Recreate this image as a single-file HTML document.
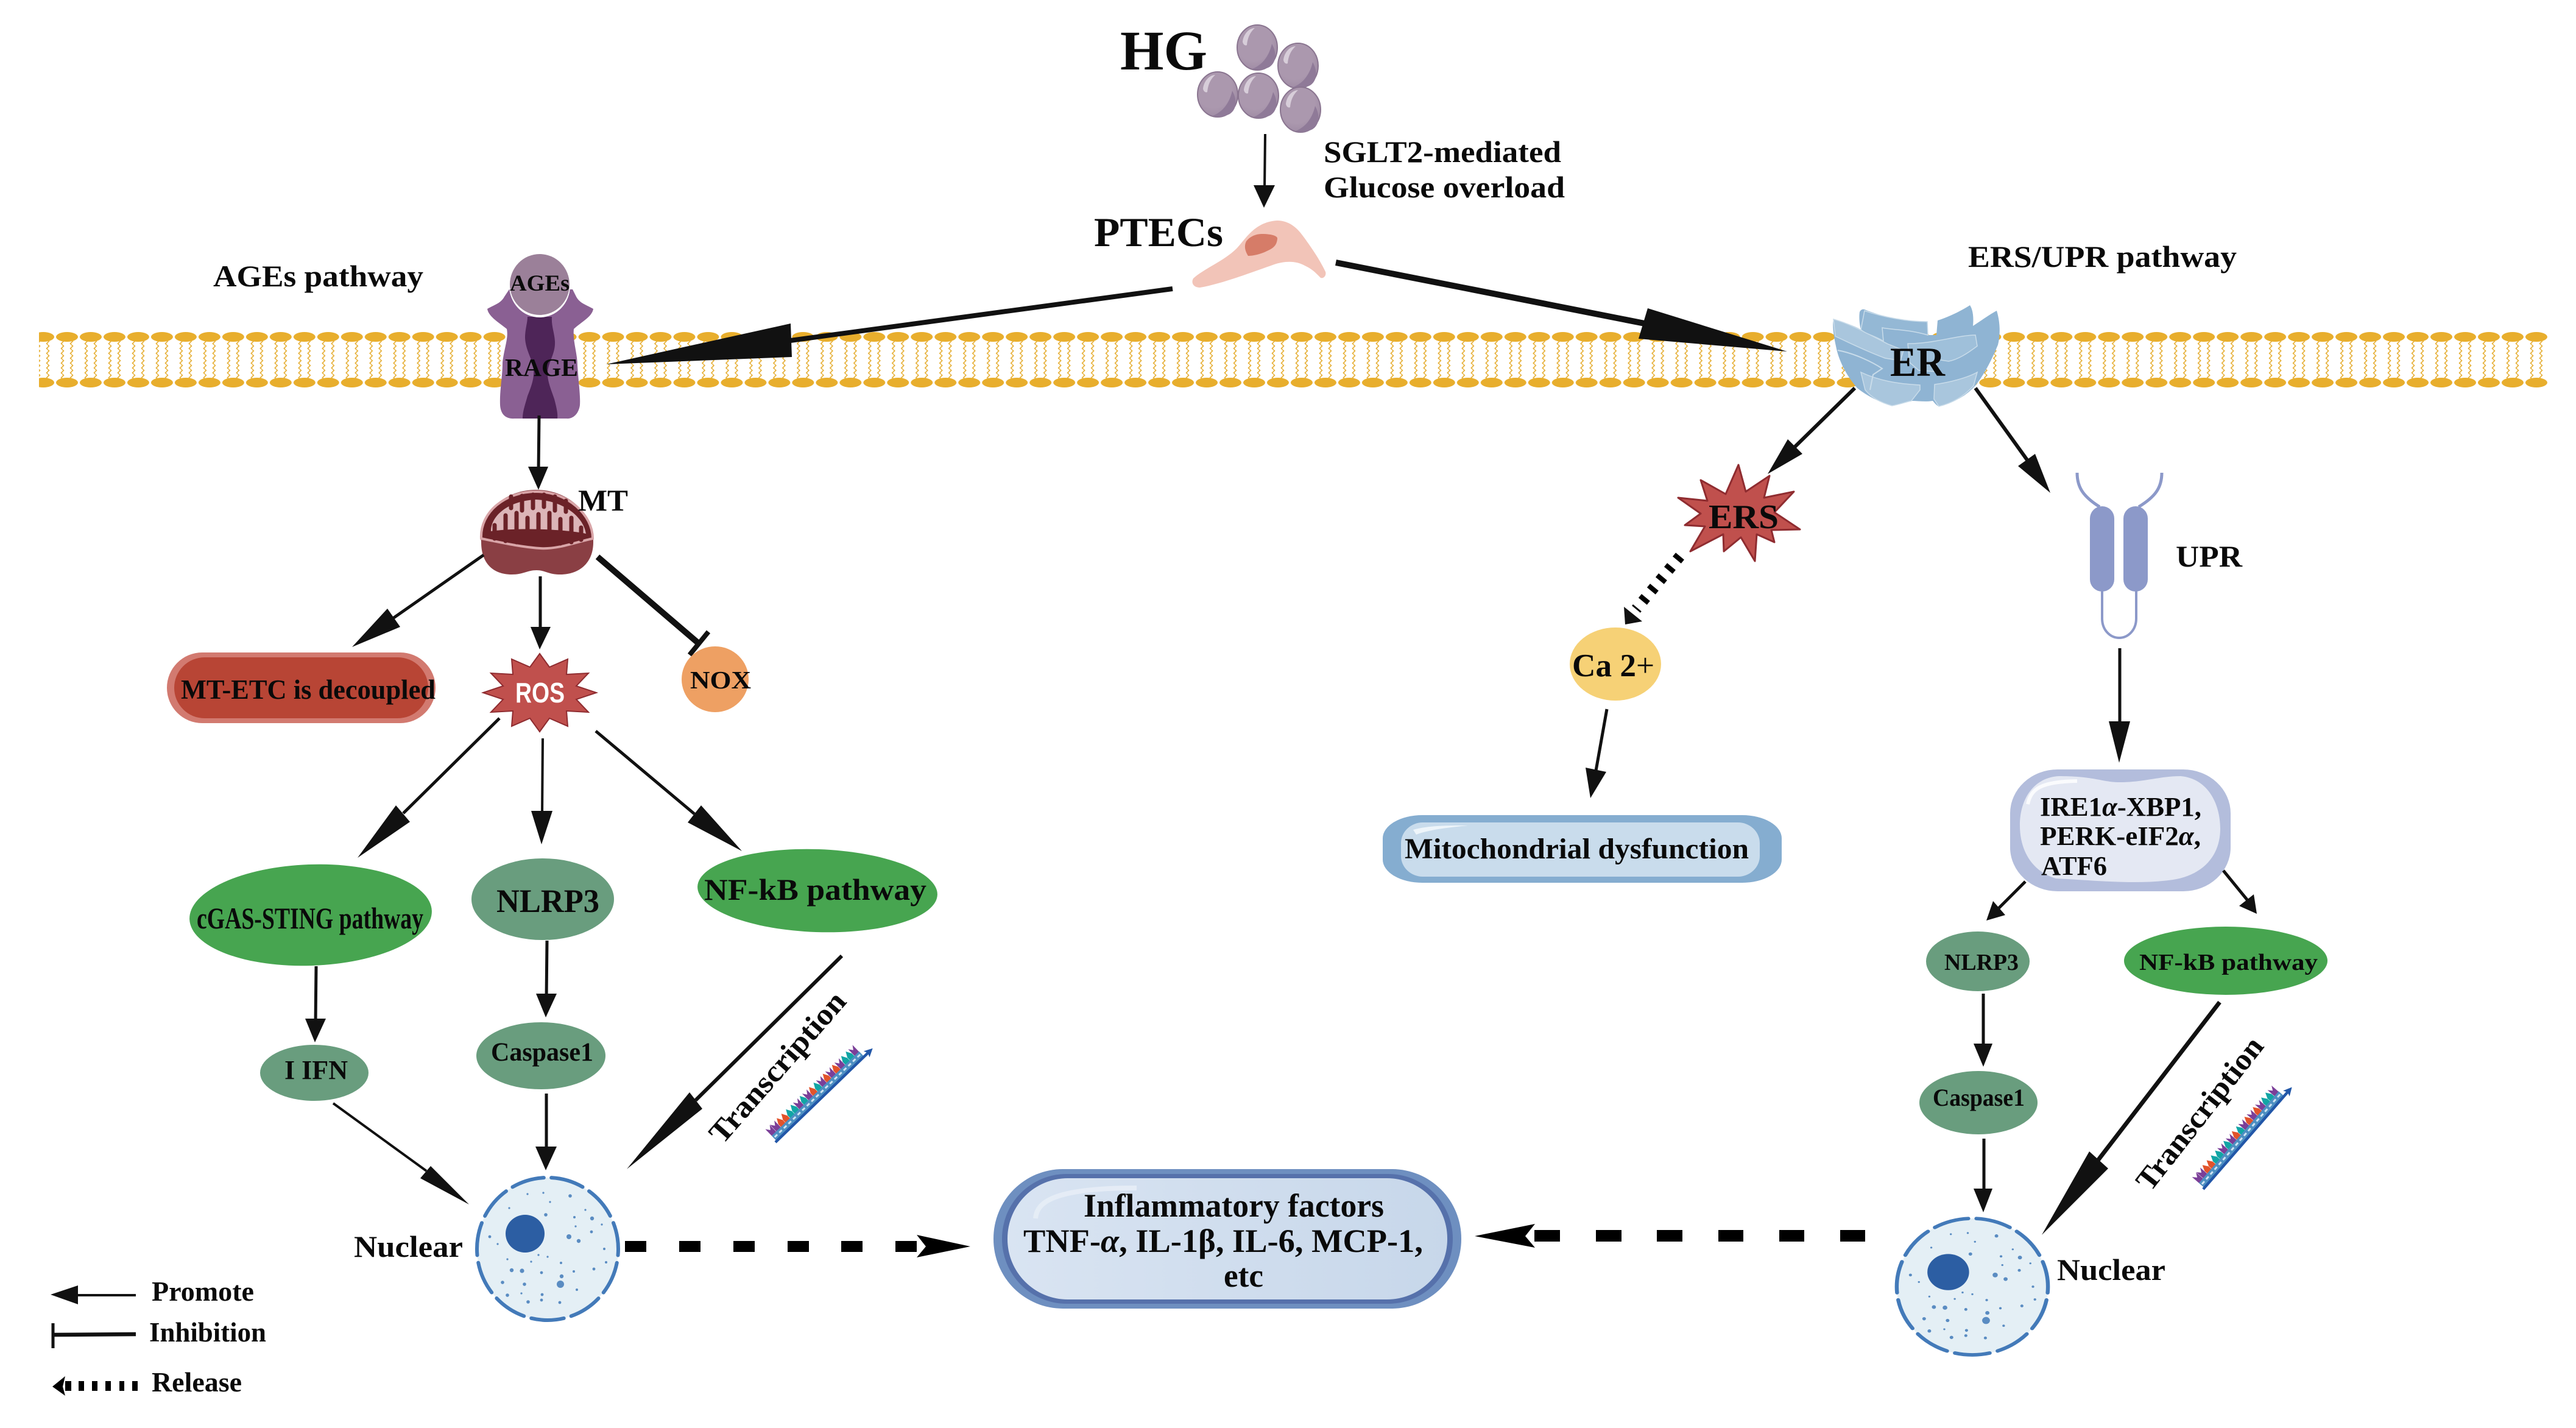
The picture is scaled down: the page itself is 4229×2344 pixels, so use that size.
<!DOCTYPE html>
<html lang="en"><head><meta charset="utf-8"><title>HG PTEC pathways</title>
<style>
html,body{margin:0;padding:0;background:#fff}
svg{display:block}
text{font-family:"Liberation Serif","Noto Serif CJK SC",serif;font-weight:bold;fill:#0a0a0a}
.a{fill:#111;stroke:none}
.l{stroke:#111;fill:none}
</style></head><body>
<svg xmlns="http://www.w3.org/2000/svg" width="4229" height="2344" viewBox="0 0 4229 2344">
<defs>
<pattern id="heads" patternUnits="userSpaceOnUse" x="90.5" y="0" width="38.98" height="2344">
<ellipse cx="19.49" cy="553" rx="18" ry="8" fill="#e8ae2d"/>
<ellipse cx="19.49" cy="628" rx="18" ry="8" fill="#e8ae2d"/>
</pattern>
<pattern id="tails" patternUnits="userSpaceOnUse" x="90.5" y="558" width="38.98" height="8">
<path d="M12 0l2 2l-4 4l2 2M27 0l2 2l-4 4l2 2" fill="none" stroke="#e6b038" stroke-width="1.6"/>
</pattern>
<radialGradient id="ball" cx="0.4" cy="0.35" r="0.75"><stop offset="0.6" stop-color="#ab98ae"/><stop offset="1" stop-color="#9a86a0"/></radialGradient>
<linearGradient id="pillg" x1="0" x2="1" y1="0" y2="0"><stop offset="0" stop-color="#d9e4f2"/><stop offset="1" stop-color="#c7d7ea"/></linearGradient>
<g id="ballg"><ellipse rx="33" ry="37" fill="url(#ball)" stroke="#8a7590" stroke-width="2"/><path d="M-8 35C10 28 20 12 24 -6C32 8 32 24 20 32C10 37 2 38 -8 35Z" fill="#8f7a98"/><path d="M-24 -10C-22 -24 -12 -32 -4 -32C-13 -24 -16 -14 -17 -4C-20 -2 -24 -6 -24 -10Z" fill="#d7cdd9"/></g>
<g id="nucleus">
<ellipse cx="899" cy="2050" rx="116" ry="117" fill="#e4eff5" stroke="#437ab9" stroke-width="6" stroke-linecap="round" stroke-dasharray="54 12.5" stroke-dashoffset="-23"/>
<ellipse cx="862" cy="2025" rx="32" ry="31" fill="#2c5ea3"/>
<g fill="#5a8cc2">
<circle cx="866" cy="1960" r="1.6"/><circle cx="892" cy="1958" r="1.6"/><circle cx="936" cy="1963" r="2.8"/><circle cx="903" cy="1973" r="1.6"/><circle cx="836" cy="1983" r="1.6"/><circle cx="961" cy="1986" r="1.6"/><circle cx="896" cy="1994" r="2.8"/><circle cx="943" cy="1998" r="2"/><circle cx="972" cy="2000" r="3.2"/><circle cx="988" cy="2010" r="1.6"/><circle cx="945" cy="2013" r="1.6"/><circle cx="971" cy="2022" r="2.4"/><circle cx="804" cy="2030" r="2.4"/><circle cx="934" cy="2030" r="4"/><circle cx="950" cy="2037" r="3.2"/><circle cx="817" cy="2042" r="1.6"/><circle cx="992" cy="2050" r="2"/><circle cx="884" cy="2060" r="1.6"/><circle cx="899" cy="2063" r="1.6"/><circle cx="833" cy="2067" r="1.6"/><circle cx="872" cy="2071" r="1.6"/><circle cx="921" cy="2073" r="2"/><circle cx="995" cy="2072" r="2"/><circle cx="975" cy="2083" r="2.4"/><circle cx="840" cy="2085" r="3.2"/><circle cx="857" cy="2086" r="3.6"/><circle cx="889" cy="2089" r="2.4"/><circle cx="942" cy="2087" r="2"/><circle cx="922" cy="2095" r="3.2"/><circle cx="825" cy="2105" r="2.8"/><circle cx="861" cy="2108" r="2.8"/><circle cx="920" cy="2108" r="6"/><circle cx="947" cy="2117" r="2"/><circle cx="833" cy="2126" r="2.8"/><circle cx="856" cy="2123" r="1.6"/><circle cx="890" cy="2125" r="2.4"/><circle cx="867" cy="2137" r="2.8"/><circle cx="889" cy="2134" r="2.4"/><circle cx="919" cy="2138" r="2.4"/>
</g></g>
<path id="t" d="M0 0h10v-16l-5-9l-5 9z"/>
<path id="p" d="M0 0h10v-25l-5 7l-5-7z"/>
<g id="rna">
<g transform="translate(0,-2)">
<use href="#p" x="3" fill="#7b3f98"/><use href="#p" x="13.5" fill="#7b3f98"/><use href="#t" x="24" fill="#e2532b"/><use href="#t" x="34.5" fill="#e2532b"/><use href="#t" x="45" fill="#12a5a5"/><use href="#t" x="55.5" fill="#12a5a5"/><use href="#p" x="66" fill="#7b3f98"/><use href="#t" x="76.5" fill="#12a5a5"/><use href="#p" x="87" fill="#7b3f98"/><use href="#t" x="97.5" fill="#e2532b"/><use href="#t" x="108" fill="#12a5a5"/><use href="#p" x="118.5" fill="#7b3f98"/><use href="#t" x="129" fill="#e2532b"/><use href="#p" x="139.5" fill="#7b3f98"/><use href="#t" x="150" fill="#e2532b"/><use href="#p" x="160.5" fill="#7b3f98"/><use href="#t" x="171" fill="#12a5a5"/><use href="#t" x="181.5" fill="#12a5a5"/><use href="#p" x="192" fill="#7b3f98"/>
<rect x="3" y="-10" width="199.5" height="10" fill="#4d8fc2"/>
<path d="M5-5h195" stroke="#cfe4f2" stroke-width="3" stroke-dasharray="6 4.5" fill="none"/>
</g>
<path d="M0 0H212" stroke="#2257a8" stroke-width="4.5" fill="none"/>
<path d="M208 -7L222 0L208 7L211 0Z" fill="#2257a8"/>
</g>
</defs>
<rect width="4229" height="2344" fill="#fff"/>

<!-- membrane -->
<rect x="64" y="558" width="4120" height="64" fill="url(#tails)"/>
<rect x="64" y="544" width="4120" height="92" fill="url(#heads)"/>

<!-- HG balls -->
<use href="#ballg" x="2064" y="78"/><use href="#ballg" x="2131" y="108"/><use href="#ballg" x="1999" y="155"/><use href="#ballg" x="2066" y="157"/><use href="#ballg" x="2135" y="180"/>
<text x="1839" y="114" font-size="92" textLength="143" lengthAdjust="spacingAndGlyphs">HG</text>

<line class="l" x1="2077" y1="220" x2="2076" y2="310" stroke-width="4"/>
<polygon class="a" points="2075,341 2058,304 2093,304"/>
<text x="2173" y="266" font-size="50" textLength="390" lengthAdjust="spacingAndGlyphs">SGLT2-mediated</text>
<text x="2173" y="324" font-size="50" textLength="396" lengthAdjust="spacingAndGlyphs">Glucose overload</text>

<!-- PTEC -->
<path d="M2097 362C2114 362 2128 372 2138 386C2150 402 2166 425 2176 446C2178 452 2173 458 2168 456C2160 448 2155 442 2142 436C2128 428 2110 428 2092 434C2058 446 2005 466 1970 472C1959 472 1955 464 1959 457C1975 442 2010 428 2030 408C2045 392 2060 364 2097 362Z" fill="#f2c4b8"/>
<path d="M2071 384C2090 384 2098 388 2097 392C2096 400 2094 406 2080 412C2068 418 2056 420 2049 420C2044 412 2042 404 2046 396C2052 388 2062 384 2071 384Z" fill="#d67c68"/>
<text x="1796" y="404" font-size="68" textLength="212" lengthAdjust="spacingAndGlyphs">PTECs</text>

<!-- big arrows from PTEC -->
<line class="l" x1="1925" y1="474" x2="1290" y2="560" stroke-width="8"/>
<line class="l" x1="2193" y1="431" x2="2700" y2="531" stroke-width="10"/>

<!-- RAGE -->
<path d="M800 507C812 500 822 498 828 487L836 475L940 475L946 487C952 498 962 500 974 507C972 520 955 528 942 540C940 560 948 580 948 600C950 630 953 650 952 665C950 680 940 688 930 687L845 687C830 688 822 680 821 665C820 640 825 620 825 595C828 570 835 555 832 540C820 530 802 520 800 507Z" fill="#8a6093"/>
<path d="M866 520L906 520C905 535 910 545 911 560C912 580 902 590 899 610C898 625 905 640 910 655C914 670 916 680 915 687L858 687C858 675 862 665 866 650C874 630 877 620 876 605C874 590 863 575 862 555C862 540 866 530 866 520Z" fill="#4e2558"/>
<ellipse cx="886" cy="469" rx="50" ry="52" fill="#fff"/>
<ellipse cx="886" cy="467" rx="49" ry="50" fill="#9b8099"/>
<text x="837" y="477" font-size="37" textLength="98" lengthAdjust="spacingAndGlyphs">AGEs</text>
<text x="829" y="617" font-size="41" textLength="120" lengthAdjust="spacingAndGlyphs">RAGE</text>
<text x="350" y="470" font-size="50" textLength="345" lengthAdjust="spacingAndGlyphs">AGEs pathway</text>
<polygon class="a" points="995,598 1298,531 1300,586"/>
<polygon class="a" points="2934,577 2705,506 2690,556"/>

<!-- ER -->
<path d="M3010 524C3025 528 3045 535 3055 541C3052 530 3052 518 3053 512C3055 508 3058 507 3061 508C3090 520 3130 528 3164 528L3165 550L3179 550L3181 526C3200 520 3220 510 3234 501C3240 510 3240 525 3239 535C3250 528 3268 515 3278 510C3284 530 3284 550 3280 566C3270 590 3260 610 3246 629C3230 650 3205 662 3183 667C3178 665 3175 660 3173 658C3160 660 3150 658 3138 658C3128 660 3118 664 3106 666C3085 660 3065 650 3049 637C3030 615 3018 590 3014 568C3010 550 3008 535 3010 524Z" fill="#8fb4d3"/>
<path d="M3010 524C3040 532 3070 550 3100 565L3125 575L3120 592L3095 588C3060 575 3035 562 3013 552Z" fill="#a9c6dd" stroke="#c9dcea" stroke-width="1.5"/>
<path d="M3055 611C3085 625 3115 630 3152 632L3152 640L3138 658C3128 660 3118 664 3106 666C3085 660 3072 652 3062 640Z" fill="#a9c6dd" stroke="#c9dcea" stroke-width="1.5"/>
<path d="M3176 631C3200 628 3230 620 3246 611L3240 633C3225 650 3205 662 3183 667L3175 655Z" fill="#a9c6dd" stroke="#c9dcea" stroke-width="1.5"/>
<path d="M3132 564C3170 565 3215 550 3243 550L3246 568C3230 580 3215 590 3199 593L3180 590L3178 610L3150 608L3135 595Z" fill="#9fc0da" stroke="#c9dcea" stroke-width="1.5"/>
<path d="M3061 510C3090 520 3130 528 3164 528L3165 550C3130 540 3110 542 3090 538L3092 560C3080 552 3062 548 3055 541Z" fill="#94b8d5" stroke="#c9dcea" stroke-width="1.5"/>
<path d="M3017 575C3045 580 3075 595 3090 605L3075 615L3070 640" fill="none" stroke="#c9dcea" stroke-width="2"/>
<text x="3103" y="617" font-size="68" textLength="90" lengthAdjust="spacingAndGlyphs">ER</text>

<line class="l" x1="3045" y1="637" x2="2945" y2="735" stroke-width="6"/>
<polygon class="a" points="2902,778 2935,721 2959,745"/>
<line class="l" x1="3243" y1="637" x2="3328" y2="755" stroke-width="6"/>
<polygon class="a" points="3366,809 3341,745 3313,765"/>

<!-- ERS -->
<polygon points="2854,763 2866,807 2905,781 2896,817 2945,807 2913,841 2955,869 2908,870 2913,890 2884,877 2881,921 2858,882 2830,905 2829,877 2775,905 2799,864 2766,862 2792,843 2755,817 2803,822 2792,788 2833,811" fill="#c0504d" stroke="#8f2c30" stroke-width="3" stroke-linejoin="round"/>
<text x="2805" y="867" font-size="56" textLength="115" lengthAdjust="spacingAndGlyphs">ERS</text>
<line class="l" x1="2758" y1="913" x2="2686" y2="1000" stroke-width="18" stroke-dasharray="8 14" style="stroke:#000"/>
<polygon class="a" points="2668,1025 2666,996 2696,1020"/>
<ellipse cx="2652" cy="1090" rx="75" ry="60" fill="#f6d176"/>
<text x="2581" y="1110" font-size="53" textLength="135" lengthAdjust="spacingAndGlyphs">Ca 2<tspan font-weight="normal">+</tspan></text>
<line class="l" x1="2638" y1="1164" x2="2620" y2="1265" stroke-width="5"/>
<polygon class="a" points="2611,1310 2603,1260 2637,1267"/>
<rect x="2270" y="1338" width="655" height="111" rx="65" ry="38" fill="#85add0"/>
<rect x="2300" y="1350" width="589" height="89" rx="36" ry="34" fill="#c9dcec"/>
<path d="M2320 1362C2345 1355 2375 1355 2410 1355C2380 1358 2345 1362 2325 1370Z" fill="#eef5fa"/>
<text x="2306" y="1409" font-size="48" textLength="565" lengthAdjust="spacingAndGlyphs">Mitochondrial dysfunction</text>

<!-- UPR -->
<path d="M3410 776C3410 800 3420 815 3447 832M3549 776C3549 800 3539 815 3511 832" fill="none" stroke="#8c99c9" stroke-width="5"/>
<path d="M3451 965V1015C3451 1035 3465 1047 3479 1047C3493 1047 3507 1035 3507 1015V965" fill="none" stroke="#8c99c9" stroke-width="4"/>
<rect x="3431" y="831" width="40" height="140" rx="20" fill="#8c99c9"/>
<rect x="3486" y="831" width="40" height="140" rx="20" fill="#8c99c9"/>
<text x="3572" y="930" font-size="50" textLength="109" lengthAdjust="spacingAndGlyphs">UPR</text>
<text x="3231" y="438" font-size="50" textLength="441" lengthAdjust="spacingAndGlyphs">ERS/UPR pathway</text>
<line class="l" x1="3480" y1="1064" x2="3480" y2="1200" stroke-width="5"/>
<polygon class="a" points="3479,1252 3462,1184 3497,1184"/>

<!-- IRE -->
<rect x="3300" y="1263" width="362" height="200" rx="78" ry="72" fill="#b3bddc"/>
<path d="M3380 1274C3440 1274 3450 1284 3480 1284C3520 1284 3545 1274 3580 1274C3625 1278 3645 1320 3645 1360C3645 1410 3610 1440 3560 1445C3500 1452 3440 1445 3375 1442C3335 1430 3316 1395 3316 1355C3316 1310 3340 1276 3380 1274Z" fill="#e4e8f3"/>
<path d="M3329 1320C3334 1295 3350 1283 3410 1282" fill="none" stroke="#fff" stroke-width="6" opacity=".8"/>
<text x="3349" y="1339" font-size="44" textLength="265" lengthAdjust="spacingAndGlyphs">IRE1<tspan font-style="italic">α</tspan>-XBP1,</text>
<text x="3349" y="1387" font-size="44" textLength="264" lengthAdjust="spacingAndGlyphs">PERK-eIF2<tspan font-style="italic">α</tspan>,</text>
<text x="3351" y="1436" font-size="44" textLength="108" lengthAdjust="spacingAndGlyphs">ATF6</text>
<line class="l" x1="3325" y1="1447" x2="3280" y2="1492" stroke-width="5"/>
<polygon class="a" points="3261,1511 3272,1479 3292,1502"/>
<line class="l" x1="3650" y1="1429" x2="3690" y2="1478" stroke-width="5"/>
<polygon class="a" points="3705,1500 3700,1468 3676,1487"/>

<ellipse cx="3247" cy="1578" rx="85" ry="49" fill="#699d7e"/>
<text x="3192" y="1592" font-size="38" textLength="122" lengthAdjust="spacingAndGlyphs">NLRP3</text>
<ellipse cx="3654" cy="1577" rx="167" ry="56" fill="#47a550"/>
<text x="3512" y="1592" font-size="38" textLength="293" lengthAdjust="spacingAndGlyphs">NF-kB pathway</text>
<line class="l" x1="3256" y1="1631" x2="3256" y2="1720" stroke-width="5"/>
<polygon class="a" points="3256,1751 3240,1713 3271,1713"/>
<ellipse cx="3248" cy="1810" rx="97" ry="52" fill="#699d7e"/>
<text x="3173" y="1815" font-size="40" textLength="151" lengthAdjust="spacingAndGlyphs">Caspase1</text>
<line class="l" x1="3257" y1="1869" x2="3257" y2="1960" stroke-width="5"/>
<polygon class="a" points="3256,1990 3240,1951 3271,1951"/>
<line class="l" x1="3644" y1="1645" x2="3440" y2="1910" stroke-width="7"/>
<polygon class="a" points="3352,2027 3430,1890 3461,1918"/>
<g transform="translate(3530,1958) rotate(-51.9)"><text x="0" y="0" font-size="50" textLength="305" lengthAdjust="spacingAndGlyphs">Transcription</text></g>
<use href="#rna" transform="translate(3617,1952) rotate(-49)"/>
<use href="#nucleus" transform="translate(3238,2112) scale(1.07,0.957) translate(-899,-2050)"/>
<text x="3377" y="2101" font-size="50" textLength="178" lengthAdjust="spacingAndGlyphs">Nuclear</text>

<!-- right dashes -->
<g fill="#000"><rect x="2519" y="2019" width="42" height="19"/><rect x="2620" y="2019" width="42" height="19"/><rect x="2720" y="2019" width="42" height="19"/><rect x="2821" y="2019" width="41" height="19"/><rect x="2921" y="2019" width="41" height="19"/><rect x="3021" y="2019" width="41" height="19"/>
<polygon points="2421,2029 2520,2009 2504,2029 2520,2048"/></g>

<!-- Inflammatory -->
<rect x="1631" y="1919" width="768" height="229" rx="114" fill="#6e8fc0"/>
<rect x="1645" y="1927" width="740" height="213" rx="106" fill="#5671ab"/>
<rect x="1654" y="1934" width="722" height="199" rx="99" fill="url(#pillg)"/>
<path d="M1700 2000C1702 1975 1725 1950 1866 1950" fill="none" stroke="#e8eff8" stroke-width="8" opacity=".8"/>
<text x="1779" y="1997" font-size="54" textLength="493" lengthAdjust="spacingAndGlyphs">Inflammatory factors</text>
<text x="1680" y="2055" font-size="54" textLength="656" lengthAdjust="spacingAndGlyphs">TNF-<tspan font-style="italic">α</tspan>, IL-1β, IL-6, MCP-1,</text>
<text x="2009" y="2112" font-size="54" textLength="65" lengthAdjust="spacingAndGlyphs">etc</text>

<!-- left dashes -->
<g fill="#000"><rect x="1026" y="2037" width="35" height="18"/><rect x="1115" y="2037" width="35" height="18"/><rect x="1204" y="2037" width="35" height="18"/><rect x="1293" y="2037" width="35" height="18"/><rect x="1381" y="2037" width="35" height="18"/><rect x="1470" y="2037" width="35" height="18"/>
<polygon points="1593,2046 1505,2027 1520,2046 1505,2064"/></g>

<!-- Mitochondrion -->
<path d="M790 890C785 840 830 804 880 804C935 804 975 845 974 890C974 925 950 943 920 943C900 943 895 936 881 936C865 936 860 943 840 943C810 943 790 925 790 890Z" fill="#8a3f44"/>
<path d="M790 884C788 840 830 807 880 807C932 807 973 845 973 884C945 890 915 902 887 900C855 898 820 890 790 884Z" fill="#6b2228" stroke="#d9a5a8" stroke-width="4"/>
<path d="M806 872C806 846 835 822 880 820C925 822 958 848 962 876C925 868 845 866 806 872Z" fill="#dcb5b8"/>
<path d="M812 884V862M830 888V846M848 890V842M866 892V850M884 894V844M902 894V842M920 892V852M938 890V850M954 886V866M839 815V834M857 814V838M875 812V834M893 812V832M911 815V838M929 822V840" stroke="#6b2228" stroke-width="7" stroke-linecap="round" fill="none"/>
<text x="949" y="838" font-size="50" textLength="82" lengthAdjust="spacingAndGlyphs">MT</text>
<line class="l" x1="885" y1="682" x2="884" y2="775" stroke-width="5"/>
<polygon class="a" points="884,804 867,766 900,766"/>

<line class="l" x1="794" y1="911" x2="645" y2="1015" stroke-width="5"/>
<polygon class="a" points="578,1062 636,999 657,1029"/>
<line class="l" x1="887" y1="946" x2="887" y2="1035" stroke-width="5"/>
<polygon class="a" points="886,1066 871,1029 904,1029"/>
<line class="l" x1="981" y1="914" x2="1148" y2="1057" stroke-width="10"/>
<line class="l" x1="1163" y1="1037" x2="1132" y2="1075" stroke-width="8"/>

<rect x="274" y="1071" width="441" height="116" rx="58" fill="#d27a70"/>
<rect x="286" y="1079" width="417" height="100" rx="50" fill="#b84535"/>
<text x="297" y="1147" font-size="45" textLength="418" lengthAdjust="spacingAndGlyphs">MT-ETC is decoupled</text>

<ellipse cx="1174" cy="1115" rx="55" ry="54" fill="#eea063"/>
<text x="1133" y="1130" font-size="41" textLength="100" lengthAdjust="spacingAndGlyphs">NOX</text>

<polygon points="979,1137 946,1148 966,1169 930,1167 932,1192 902,1179 886,1201 870,1179 840,1192 842,1167 806,1169 826,1148 793,1137 826,1126 806,1105 842,1107 840,1082 870,1095 886,1073 902,1095 932,1082 930,1107 966,1105 946,1126" fill="#c0504d" stroke="#8f2c30" stroke-width="2"/>
<text x="846" y="1153" font-size="46" textLength="81" lengthAdjust="spacingAndGlyphs" style="font-family:'Liberation Sans',sans-serif;fill:#fff">ROS</text>

<!-- ROS children -->
<line class="l" x1="820" y1="1179" x2="662" y2="1335" stroke-width="5"/>
<polygon class="a" points="587,1408 650,1322 673,1349"/>
<line class="l" x1="891" y1="1212" x2="890" y2="1340" stroke-width="4"/>
<polygon class="a" points="889,1386 872,1331 907,1331"/>
<line class="l" x1="978" y1="1200" x2="1140" y2="1336" stroke-width="5"/>
<polygon class="a" points="1218,1397 1151,1322 1129,1350"/>

<ellipse cx="510" cy="1502" rx="199" ry="83" fill="#47a550" transform="rotate(-2 510 1502)"/>
<text x="323" y="1524" font-size="50" textLength="372" lengthAdjust="spacingAndGlyphs">cGAS-STING pathway</text>
<ellipse cx="891" cy="1476" rx="117" ry="67" fill="#699d7e"/>
<text x="815" y="1497" font-size="54" textLength="169" lengthAdjust="spacingAndGlyphs">NLRP3</text>
<ellipse cx="1342" cy="1462" rx="197" ry="68" fill="#47a550" transform="rotate(2 1342 1462)"/>
<text x="1156" y="1477" font-size="50" textLength="365" lengthAdjust="spacingAndGlyphs">NF-kB pathway</text>

<line class="l" x1="519" y1="1586" x2="518" y2="1680" stroke-width="5"/>
<polygon class="a" points="517,1711 501,1672 535,1672"/>
<line class="l" x1="898" y1="1544" x2="897" y2="1640" stroke-width="5"/>
<polygon class="a" points="896,1670 880,1631 914,1631"/>
<ellipse cx="516" cy="1761" rx="89" ry="46" fill="#699d7e"/>
<text x="467" y="1771" font-size="44" textLength="104" lengthAdjust="spacingAndGlyphs">I IFN</text>
<ellipse cx="888" cy="1733" rx="106" ry="55" fill="#699d7e"/>
<text x="806" y="1741" font-size="43" textLength="168" lengthAdjust="spacingAndGlyphs">Caspase1</text>
<line class="l" x1="897" y1="1795" x2="897" y2="1890" stroke-width="5"/>
<polygon class="a" points="896,1921 879,1882 914,1882"/>
<line class="l" x1="547" y1="1811" x2="700" y2="1922" stroke-width="4"/>
<polygon class="a" points="770,1977 707,1914 690,1934"/>
<line class="l" x1="1382" y1="1569" x2="1142" y2="1806" stroke-width="6"/>
<polygon class="a" points="1029,1919 1132,1793 1153,1820"/>
<g transform="translate(1186,1880) rotate(-48.8)"><text x="0" y="0" font-size="50" textLength="312" lengthAdjust="spacingAndGlyphs">Transcription</text></g>
<use href="#rna" transform="translate(1273,1875) rotate(-44)"/>
<use href="#nucleus"/>
<text x="581" y="2063" font-size="50" textLength="179" lengthAdjust="spacingAndGlyphs">Nuclear</text>

<!-- Legend -->
<line class="l" x1="223" y1="2126" x2="120" y2="2126" stroke-width="4"/>
<polygon class="a" points="83,2125 128,2110 128,2141"/>
<text x="249" y="2135" font-size="45" textLength="168" lengthAdjust="spacingAndGlyphs">Promote</text>
<line class="l" x1="87" y1="2172" x2="87" y2="2213" stroke-width="5"/>
<line class="l" x1="87" y1="2191" x2="223" y2="2190" stroke-width="6.5"/>
<text x="245" y="2202" font-size="45" textLength="192" lengthAdjust="spacingAndGlyphs">Inhibition</text>
<g fill="#000"><rect x="217" y="2267" width="9" height="16"/><rect x="196" y="2267" width="8" height="16"/><rect x="173" y="2267" width="9" height="16"/><rect x="151" y="2267" width="9" height="16"/><rect x="129" y="2267" width="9" height="16"/><rect x="107" y="2267" width="10" height="16"/>
<polygon points="86,2276 107,2259 103,2276 107,2291"/></g>
<text x="249" y="2284" font-size="45" textLength="148" lengthAdjust="spacingAndGlyphs">Release</text>
</svg>
</body></html>
